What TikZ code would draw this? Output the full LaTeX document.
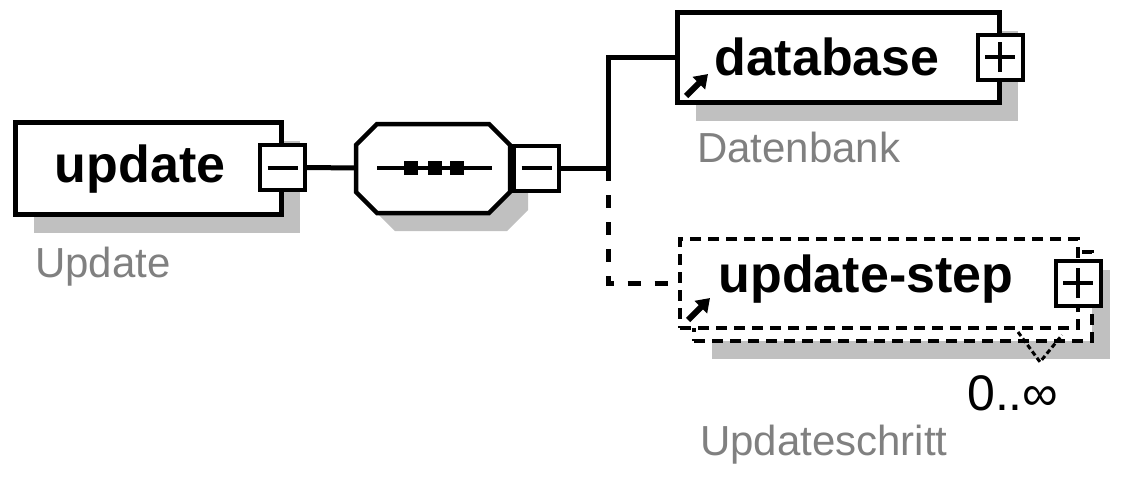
\documentclass[tikz,border=0pt]{standalone}
\usepackage{fontspec}
\setmainfont{Liberation Sans}
\usetikzlibrary{shadows,arrows.meta}
\definecolor{shadowgray}{HTML}{C0C0C0}
\definecolor{labelgray}{HTML}{808080}
\tikzset{
  elem/.style={draw, line width=5pt, fill=white, inner sep=0pt},
  boxshadow/.style={drop shadow={shadow xshift=18pt, shadow yshift=-18pt, fill=shadowgray, opacity=1}},
  button/.style={draw, line width=4pt, fill=white, minimum size=45pt, inner sep=0pt},
  tagname/.style={font=\fontsize{52}{52}\selectfont\bfseries, anchor=base, inner sep=0pt},
  annot/.style={font=\fontsize{42}{42}\selectfont, text=labelgray, anchor=base west, inner sep=0pt},
  link/.style={line width=5pt},
  optlink/.style={link, dash pattern=on 13pt off 14pt},
  optbox/.style={elem, line width=4pt, dash pattern=on 11pt off 7pt, minimum width=398pt, minimum height=89pt},
  refarrow/.style={line width=6pt, -{Triangle[length=13pt,width=17pt]}},
}
\begin{document}
\begin{tikzpicture}[x=1pt,y=-1pt]
  \useasboundingbox (0,0) rectangle (1124,491);
  % update
  \node[elem, boxshadow, minimum width=266pt, minimum height=92pt] (update) at (148.5,168.5) {};
  \node[tagname] (updatetag) at (140,182) {update};
  \node[annot] (updatedoc) at (35,277) {Update};
  \node[button] (updatebtn) at (282.5,167.5) {};
  \draw[line width=4pt] ([xshift=-15pt]updatebtn.center) -- ([xshift=15pt]updatebtn.center);
  % sequence
  \fill[shadowgray, shift={(18,18)}] (356,145) -- (377,124) -- (489,124) -- (510,145)
    -- (510,192) -- (489,213) -- (377,213) -- (356,192) -- cycle;
  \draw[line width=4.5pt, fill=white] (356,145) -- (377,124) -- (489,124) -- (510,145)
    -- (510,192) -- (489,213) -- (377,213) -- (356,192) -- cycle;
  \coordinate (seq) at (356,168);
  \draw[line width=4pt] (377,168) -- (492,168);
  \foreach \x in {411,434.5,457}
    \fill (\x-7,161) rectangle (\x+7,175);
  \node[button] (seqbtn) at (536.5,168) {};
  \draw[line width=4pt] ([xshift=-15pt]seqbtn.center) -- ([xshift=15pt]seqbtn.center);
  % database
  \node[elem, boxshadow, minimum width=322pt, minimum height=90pt] (database) at (838.5,57.5) {};
  \node[tagname] (databasetag) at (827,75) {database};
  \node[annot] (databasedoc) at (697,162) {Datenbank};
  \node[button] (databasebtn) at (1000,57) {};
  \draw[line width=4pt] ([xshift=-15pt]databasebtn.center) -- ([xshift=15pt]databasebtn.center);
  \draw[line width=4pt] ([yshift=-15pt]databasebtn.center) -- ([yshift=15pt]databasebtn.center);
  \draw[refarrow] (686,96) -- (708,74);
  % update-step
  \node[optbox, boxshadow] (stepback) at (893,296.5) {};
  \node[optbox] (stepfront) at (879,283.5) {};
  \node[tagname] (steptag) at (866,292) {update-step};
  \node[annot] (stepdoc) at (700,455) {Updateschritt};
  \node[button] (stepbtn) at (1078,283) {};
  \draw[line width=4pt] ([xshift=-15pt]stepbtn.center) -- ([xshift=15pt]stepbtn.center);
  \draw[line width=4pt] ([yshift=-15pt]stepbtn.center) -- ([yshift=15pt]stepbtn.center);
  \draw[refarrow] (688,320) -- (710,298);
  \draw[line width=3pt, dash pattern=on 5pt off 3pt] (1018,332) -- (1040,362) -- (1062,335);
  \node[font=\fontsize{50}{50}\selectfont, anchor=base west, inner sep=0pt] (stepocc) at (967,410) {0..∞};
  % connectors
  \coordinate (fork) at (608,168);
  \draw[link] (updatebtn.east) -- (seq);
  \draw[link] (seqbtn.east) -- (fork);
  \draw[link] (fork) |- (database.west);
  \draw[optlink] (fork) |- (stepfront.west);
\end{tikzpicture}
\end{document}
